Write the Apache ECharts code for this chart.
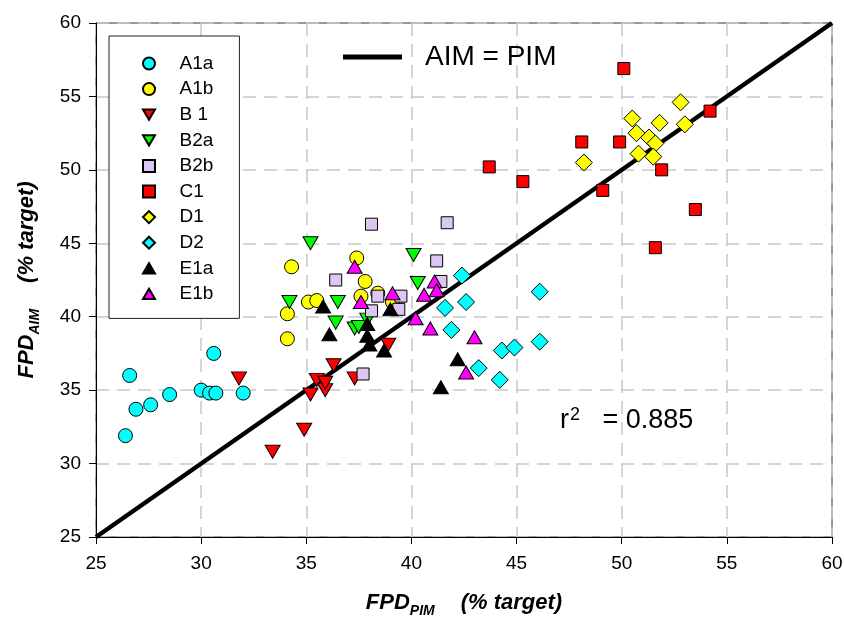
<!DOCTYPE html>
<html><head><meta charset="utf-8">
<script src="https://cdn.jsdelivr.net/npm/echarts@6/dist/echarts.min.js"></script>
<style>html,body{margin:0;padding:0;background:#fff}#c{width:844px;height:619px}</style>
</head><body><div id="c"></div>
<script>
// ---- data (x = FPD_PIM, y = FPD_AIM, % target) ----
const A1a = [[26.4,31.9],[26.6,36.0],[26.9,33.7],[27.6,34.0],[28.5,34.7],[30.0,35.0],[30.4,34.8],[30.7,34.8],[30.6,37.5],[32.0,34.8]];
const A1b = [[34.1,38.5],[34.1,40.2],[34.3,43.4],[35.1,41.0],[35.5,41.1],[37.4,44.0],[37.8,42.4],[37.6,41.4],[38.4,41.6],[39.1,41.0]];
const B1  = [[31.8,35.8],[33.4,30.8],[34.9,32.3],[35.2,34.7],[35.5,35.7],[35.9,35.0],[35.9,35.5],[36.3,36.7],[37.3,35.8],[38.9,38.1]];
const B2a = [[35.2,45.0],[34.2,41.0],[36.5,41.0],[36.4,39.6],[37.3,39.2],[37.5,39.3],[37.9,39.8],[40.1,44.2],[40.3,42.3]];
const B2b = [[38.1,46.3],[41.7,46.4],[36.4,42.5],[41.2,43.8],[41.4,42.4],[38.4,41.4],[38.1,40.4],[39.5,41.4],[39.4,40.5],[37.7,36.1]];
const C1  = [[50.1,56.9],[54.2,54.0],[48.1,51.9],[49.9,51.9],[43.7,50.2],[45.3,49.2],[51.9,50.0],[49.1,48.6],[53.5,47.3],[51.6,44.7]];
const D1  = [[52.8,54.6],[50.5,53.5],[51.8,53.2],[50.7,52.5],[51.3,52.2],[51.6,51.8],[53.0,53.1],[50.8,51.1],[51.5,50.9],[48.2,50.5]];
const D2  = [[42.4,42.8],[46.1,41.7],[42.6,41.0],[41.6,40.6],[41.9,39.1],[46.1,38.3],[44.3,37.7],[44.9,37.9],[43.2,36.5],[44.2,35.7]];
const E1a = [[35.8,40.7],[36.1,38.8],[37.9,39.5],[37.9,38.7],[38.0,38.1],[38.7,37.7],[39.0,40.5],[42.2,37.1],[41.4,35.2]];
const E1b = [[37.3,43.4],[37.6,41.0],[39.1,41.6],[40.6,41.5],[41.1,42.4],[41.2,41.8],[40.2,39.9],[40.9,39.2],[43.0,38.6],[42.6,36.2]];
const identityLine = [[25,25],[60,60]];
const seriesNames = ['A1a','A1b','B 1','B2a','B2b','C1','D1','D2','E1a','E1b'];
const seriesData = [A1a,A1b,B1,B2a,B2b,C1,D1,D2,E1a,E1b];
const lineName = 'AIM = PIM';
const r2Value = '0.885';
const axisMin = 25, axisMax = 60, axisStep = 5;

// ---- styles ----
const FONT = 'Liberation Sans, Arial, sans-serif';
const DOWN = 'path://M0,0 L14,0 L7,12 Z';
const UP = 'path://M7,0 L14,12 L0,12 Z';
const styles = [
  {symbol:'circle', size:14, color:'#00FFFF'},
  {symbol:'circle', size:14, color:'#FFFF00'},
  {symbol:DOWN, size:[15,13], color:'#FF0000'},
  {symbol:DOWN, size:[15,13], color:'#00FF00'},
  {symbol:'rect', size:12, color:'#DCC6F2'},
  {symbol:'rect', size:12, color:'#FF0000'},
  {symbol:'diamond', size:17, color:'#FFFF00'},
  {symbol:'diamond', size:17, color:'#00FFFF'},
  {symbol:UP, size:[15,13], color:'#000000'},
  {symbol:UP, size:[15,13], color:'#FF00FF'}
];

const scatterSeries = seriesNames.map((n,i)=>({
  name:n, type:'scatter', data:seriesData[i],
  symbol:styles[i].symbol, symbolSize:styles[i].size,
  itemStyle:{color:styles[i].color, borderColor:'#000', borderWidth:1, opacity:1},
  emphasis:{disabled:true}, z:3
}));

const titleRich = {
  a:{fontFamily:FONT, fontSize:22, fontWeight:'bold', fontStyle:'italic', color:'#000', lineHeight:30},
  s:{fontFamily:FONT, fontSize:14, fontWeight:'bold', fontStyle:'italic', color:'#000', lineHeight:16, verticalAlign:'bottom'},
  b:{fontFamily:FONT, fontSize:22, fontWeight:'bold', fontStyle:'italic', color:'#000', lineHeight:30, padding:[0,0,0,26]}
};

const axisCommon = {
  type:'value', min:axisMin, max:axisMax, interval:axisStep,
  axisLine:{show:true, onZero:false, lineStyle:{color:'#000', width:1}},
  axisTick:{show:true, length:7, lineStyle:{color:'#000', width:1}},
  axisLabel:{fontFamily:FONT, fontSize:19, color:'#000'},
  splitLine:{show:true, lineStyle:{color:'#c8c8c8', width:1.5, type:[13,8]}},
  nameLocation:'middle'
};

const chart = echarts.init(document.getElementById('c'), null, {renderer:'canvas'});
chart.setOption({
  animation:false,
  backgroundColor:'#fff',
  grid:{left:96, right:12, top:23, bottom:82, containLabel:false, outerBoundsMode:'none',
        show:true, borderColor:'#333', borderWidth:1, backgroundColor:'transparent'},
  xAxis:Object.assign({}, axisCommon, {
    axisLabel:Object.assign({}, axisCommon.axisLabel, {margin:17}),
    name:'{a|FPD}{s|PIM}{b|(% target)}', nameGap:51, nameTextStyle:{rich:titleRich}
  }),
  yAxis:Object.assign({}, axisCommon, {
    axisLabel:Object.assign({}, axisCommon.axisLabel, {margin:15}),
    name:'{a|FPD}{s|AIM}{b|(% target)}', nameGap:54, nameTextStyle:{rich:titleRich}
  }),
  legend:[
    {
      data:seriesNames, orient:'vertical', left:109, top:36,
      padding:[18,26,15,33], itemWidth:12, itemHeight:12, itemGap:6.6,
      borderColor:'#222', borderWidth:1, backgroundColor:'#fff',
      selectedMode:false,
      textStyle:{fontFamily:FONT, fontSize:19, color:'#000', lineHeight:19, padding:[0,0,0,19.6]}
    },
    {
      data:[{name:lineName, icon:'rect'}], orient:'horizontal', left:343, top:43,
      padding:0, itemWidth:59, itemHeight:5, selectedMode:false,
      itemStyle:{color:'#000', borderWidth:0},
      textStyle:{fontFamily:FONT, fontSize:28, color:'#000', lineHeight:28, padding:[0,0,0,18]}
    }
  ],
  graphic:[{
    type:'text', left:560, top:406, z:10,
    style:{
      text:'{m|r}{p|2}{m|   = ' + r2Value + '}',
      rich:{
        m:{fontFamily:FONT, fontSize:27, color:'#000', lineHeight:30},
        p:{fontFamily:FONT, fontSize:18, color:'#000', lineHeight:16, verticalAlign:'top', padding:[0,0,0,1]}
      }
    }
  }],
  series:[
    {name:lineName, type:'line', data:identityLine, symbol:'none', showSymbol:false,
     lineStyle:{color:'#000', width:4.5}, itemStyle:{color:'#000'}, z:2, silent:true}
  ].concat(scatterSeries)
});
</script>
</body></html>
